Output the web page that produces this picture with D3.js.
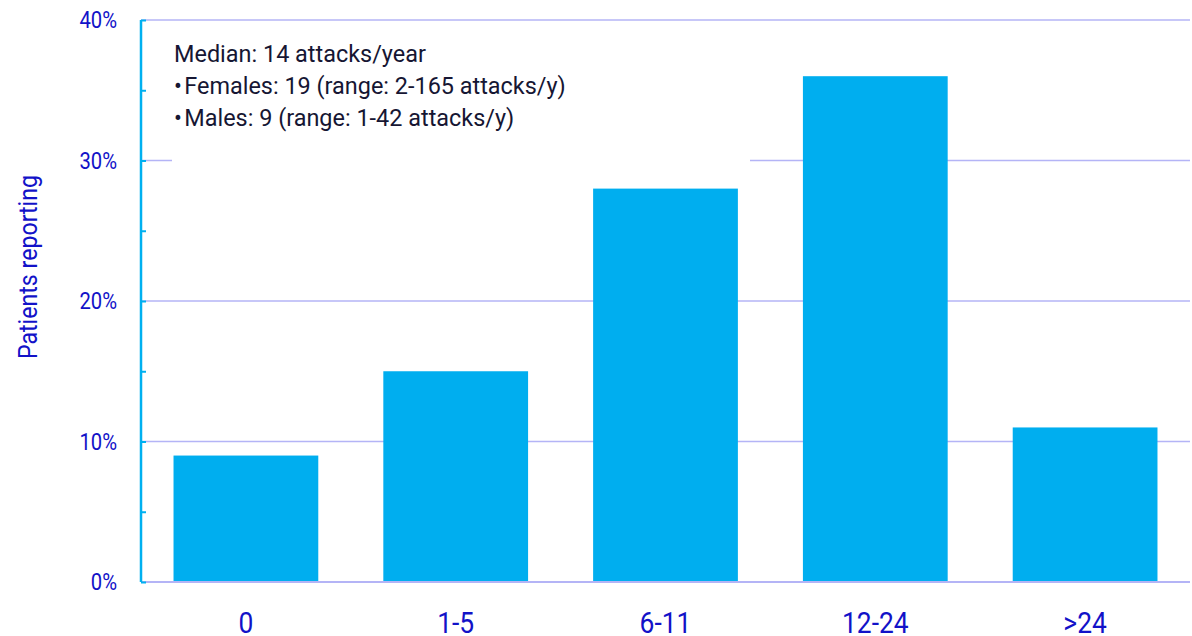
<!DOCTYPE html>
<html>
<head>
<meta charset="utf-8">
<script src="https://cdn.jsdelivr.net/npm/d3@7"></script>
<style>
  html, body { margin: 0; padding: 0; background: #fff; }
  svg { display: block; font-family: Roboto, "Noto Sans", sans-serif; }
</style>
</head>
<body>
<svg id="chart" width="1192" height="636"></svg>
<script>
// Annual attack frequency categories and share of patients in each
const categories = ["0", "1-5", "6-11", "12-24", ">24"];
const patientsPct = [9, 15, 28, 36, 11];
const yTicks = [0, 10, 20, 30, 40];
const yMinorTicks = [0, 5, 10, 15, 20, 25, 30, 35, 40];
const noteLines = [
  "Median: 14 attacks/year",
  "\u2022\u200AFemales: 19 (range: 2-165 attacks/y)",
  "\u2022\u200AMales: 9 (range: 1-42 attacks/y)"
];

const svg = d3.select("#chart");
const margin = { left: 141, right: 2, top: 20, bottom: 54 };
const W = 1192, H = 636;
const narrow = 0.88; // horizontal squeeze for a condensed look

const x = d3.scaleBand()
  .domain(categories)
  .range([margin.left, W - margin.right])
  .paddingInner(0.31)
  .paddingOuter(0.155);

const y = d3.scaleLinear()
  .domain([0, 40])
  .range([H - margin.bottom, margin.top]);

const gridColor = "#b4b4f6";
const axisColor = "#00b0f0";
const labelColor = "#1212c8";

// horizontal gridlines
svg.append("g")
  .selectAll("line")
  .data(yTicks.filter(d => d > 0))
  .join("line")
  .attr("x1", margin.left)
  .attr("x2", W - margin.right)
  .attr("y1", d => y(d))
  .attr("y2", d => y(d))
  .attr("stroke", gridColor)
  .attr("stroke-width", 1.5);

// white panel behind the annotation
svg.append("rect")
  .attr("x", 172)
  .attr("y", 30)
  .attr("width", 578)
  .attr("height", 142)
  .attr("fill", "#fff");

// bars
svg.append("g")
  .selectAll("rect")
  .data(categories.map((c, i) => ({ c, v: patientsPct[i] })))
  .join("rect")
  .attr("x", d => x(d.c))
  .attr("width", x.bandwidth())
  .attr("y", d => y(d.v))
  .attr("height", d => y(0) - y(d.v))
  .attr("fill", "#00aeef");

// baseline
svg.append("line")
  .attr("x1", margin.left)
  .attr("x2", W - margin.right)
  .attr("y1", y(0))
  .attr("y2", y(0))
  .attr("stroke", gridColor)
  .attr("stroke-width", 2);

// y axis line with small ticks
const yAxis = svg.append("g")
  .attr("transform", `translate(${margin.left},0)`)
  .call(d3.axisRight(y).tickValues(yMinorTicks).tickSize(5).tickFormat(""));
yAxis.select(".domain").attr("stroke", axisColor).attr("stroke-width", 2.5)
  .attr("d", `M0,${y(40)}V${y(0)}`);
yAxis.selectAll(".tick line").attr("stroke", axisColor).attr("stroke-width", 2);

// y tick labels
svg.append("g")
  .selectAll("text")
  .data(yTicks)
  .join("text")
  .attr("transform", d => `translate(117,${y(d) + 8}) scale(${narrow},1)`)
  .attr("text-anchor", "end")
  .attr("fill", labelColor)
  .attr("font-size", 23)
  .text(d => d + "%");

// x category labels
svg.append("g")
  .selectAll("text")
  .data(categories)
  .join("text")
  .attr("transform", d => `translate(${x(d) + x.bandwidth() / 2},633) scale(${narrow},1)`)
  .attr("text-anchor", "middle")
  .attr("fill", labelColor)
  .attr("font-size", 30)
  .text(d => d);

// y title
svg.append("text")
  .attr("transform", `translate(37,267) rotate(-90) scale(0.89,1)`)
  .attr("text-anchor", "middle")
  .attr("fill", labelColor)
  .attr("font-size", 26)
  .text("Patients reporting");

// annotation
svg.append("g")
  .selectAll("text")
  .data(noteLines)
  .join("text")
  .attr("transform", (d, i) => `translate(174,${62 + i * 32}) scale(0.985,1)`)
  .attr("fill", "#161633")
  .attr("font-size", 23.8)
  .text(d => d);
</script>
</body>
</html>
